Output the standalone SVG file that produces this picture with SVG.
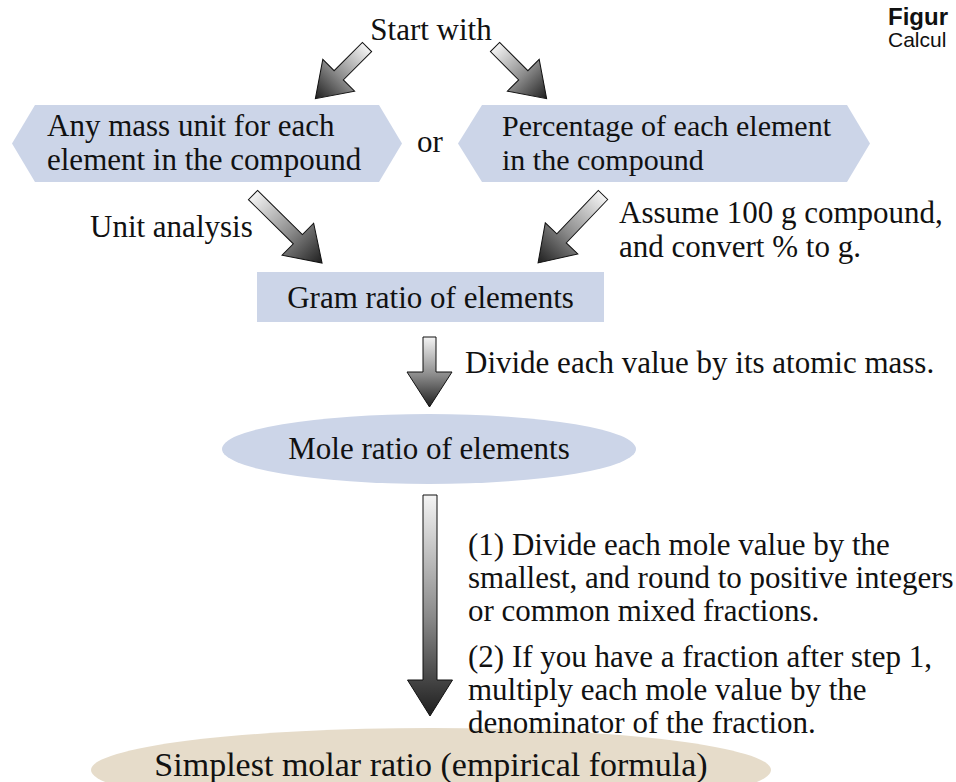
<svg xmlns="http://www.w3.org/2000/svg" width="956" height="782" viewBox="0 0 956 782">
  <defs>
    <linearGradient id="ag" x1="0" y1="0" x2="1" y2="0">
      <stop offset="0" stop-color="#f4f4f4"/>
      <stop offset="0.55" stop-color="#8a8a8a"/>
      <stop offset="1" stop-color="#1e1e1e"/>
    </linearGradient>
    <style>
      .t { font-family: "Liberation Serif", "Times New Roman", serif; font-size: 31px; fill: #111; }
      .hex { fill: #ccd5e8; }
      .box { fill: #ccd5e8; }
      .arrow { fill: url(#ag); stroke: #111; stroke-width: 1; stroke-linejoin: miter; }
      .cap { font-family: "Liberation Sans", Arial, sans-serif; font-size: 21px; fill: #111; }
    </style>
  </defs>
  <rect width="956" height="782" fill="#ffffff"/>

  <g id="caption">
    <text class="cap" x="888" y="25" font-weight="bold" style="font-size:24px">Figur</text>
    <text class="cap" x="888" y="47">Calcul</text>
  </g>

  <g id="start">
    <text class="t" x="431" y="40" text-anchor="middle">Start with</text>
  </g>

  <g id="mass-unit">
    <polygon class="hex" points="12,143.5 35,105 379,105 402,143.5 379,182 35,182"/>
    <text class="t" x="47" y="136">Any mass unit for each</text>
    <text class="t" x="47" y="170">element in the compound</text>
  </g>

  <g id="or-label">
    <text class="t" x="417" y="152">or</text>
  </g>

  <g id="percentage">
    <polygon class="hex" points="458,143.5 482,105 847,105 870,143.5 847,182 482,182"/>
    <text class="t" x="502" y="136" style="font-size:30px">Percentage of each element</text>
    <text class="t" x="502" y="170" style="font-size:30px">in the compound</text>
  </g>

  <g id="gram-ratio">
    <rect class="box" x="257" y="272" width="347" height="50"/>
    <text class="t" x="430.5" y="308" text-anchor="middle">Gram ratio of elements</text>
  </g>

  <g id="mole-ratio">
    <ellipse class="box" cx="429" cy="449" rx="207" ry="35"/>
    <text class="t" x="429" y="459" text-anchor="middle">Mole ratio of elements</text>
  </g>

  <g id="simplest">
    <ellipse cx="431" cy="770" rx="340" ry="42" fill="#e6dcca"/>
    <text class="t" x="431" y="776" text-anchor="middle" style="font-size:34px">Simplest molar ratio (empirical formula)</text>
  </g>

  <g id="connectors">
    <path class="arrow" transform="translate(367,47) rotate(135)" d="M0,-6.5 L40,-6.5 L40,-22.5 L73,0 L40,22.5 L40,6.5 L0,6.5 Z"/>
    <path class="arrow" transform="translate(495,47) rotate(45)" d="M0,-6.5 L40,-6.5 L40,-22.5 L73,0 L40,22.5 L40,6.5 L0,6.5 Z"/>
    <path class="arrow" transform="translate(253,195) rotate(44.6)" d="M0,-6.5 L63,-6.5 L63,-22.5 L97,0 L63,22.5 L63,6.5 L0,6.5 Z"/>
    <path class="arrow" transform="translate(603,195) rotate(133.7)" d="M0,-6.5 L60,-6.5 L60,-22.5 L94,0 L60,22.5 L60,6.5 L0,6.5 Z"/>
    <path class="arrow" transform="translate(429.5,337) rotate(90)" d="M0,-6.5 L35,-6.5 L35,-22.5 L70,0 L35,22.5 L35,6.5 L0,6.5 Z"/>
    <path class="arrow" transform="translate(430,495) rotate(90)" d="M0,-7 L185,-7 L185,-22.5 L221,0 L185,22.5 L185,7 L0,7 Z"/>
  </g>

  <g id="labels">
    <text class="t" x="90" y="237">Unit analysis</text>
    <text class="t" x="619" y="223">Assume 100 g compound,</text>
    <text class="t" x="619" y="257">and convert % to g.</text>
    <text class="t" x="465" y="373">Divide each value by its atomic mass.</text>
    <text class="t" x="468" y="555">(1) Divide each mole value by the</text>
    <text class="t" x="468" y="588">smallest, and round to positive integers</text>
    <text class="t" x="468" y="621">or common mixed fractions.</text>
    <text class="t" x="468" y="667">(2) If you have a fraction after step 1,</text>
    <text class="t" x="468" y="700">multiply each mole value by the</text>
    <text class="t" x="468" y="733">denominator of the fraction.</text>
  </g>
</svg>
